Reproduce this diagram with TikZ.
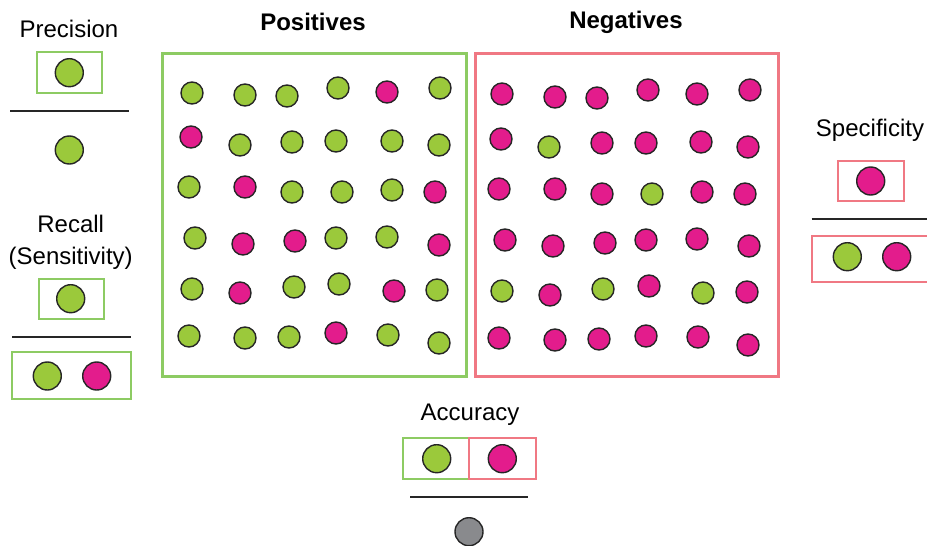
\documentclass[tikz,border=0pt]{standalone}
\usepackage{fontspec}
\setmainfont{Liberation Sans}
\usepackage{xcolor}
\usetikzlibrary{positioning}
\definecolor{pos}{HTML}{9BC93B}
\definecolor{neg}{HTML}{E31C8C}
\definecolor{posframe}{HTML}{8DCB63}
\definecolor{negframe}{HTML}{F07883}
\definecolor{allgray}{HTML}{898A8D}

\begin{document}
\begin{tikzpicture}[x=0.5pt, y=-0.5pt, font=\fontsize{12}{15.8}\selectfont,
  dot/.style={circle, draw=black!85, line width=0.7pt, minimum size=11pt, inner sep=0pt},
  bigdot/.style={dot, minimum size=14pt},
  frame/.style={line width=1.5pt},
  smallframe/.style={line width=0.85pt},
  fracline/.style={line width=1pt, black!85}]
  \useasboundingbox (0,0) rectangle (927,546);
  % class frames
  \draw[frame, posframe] (162.5,53) rectangle (466,376);
  \draw[frame, negframe] (475.5,53) rectangle (778,376);
  \node[font=\fontsize{12}{14}\selectfont\bfseries] (poslabel) at (313,22) {Positives};
  \node[font=\fontsize{12}{14}\selectfont\bfseries] (neglabel) at (626,22) {Negatives};
  % positives
  \foreach \x/\y/\c [count=\i] in {
    192/93/pos, 245/95/pos, 287/96/pos, 338/88/pos, 387/92/neg, 440/88/pos,
    191/137/neg, 240/145/pos, 292/142/pos, 336/141/pos, 392/141/pos, 439/145/pos,
    189/187/pos, 245/187/neg, 292/192/pos, 342/192/pos, 392/190/pos, 435/192/neg,
    195/238/pos, 243/244/neg, 295/241/neg, 336/238/pos, 387/237/pos, 439/245/neg,
    192/289/pos, 240/293/neg, 294/287/pos, 339/284/pos, 394/291/neg, 437/290/pos,
    189/336/pos, 245/338/pos, 289/337/pos, 336/333/neg, 388/335/pos, 439/343/pos}
    \node[dot, fill=\c] (p\i) at (\x,\y) {};
  % negatives
  \foreach \x/\y/\c [count=\i] in {
    502/94/neg, 555/97/neg, 597/98/neg, 648/90/neg, 697/94/neg, 750/90/neg,
    501/139/neg, 549/147/pos, 602/143/neg, 646/143/neg, 701/142/neg, 748/147/neg,
    499/189/neg, 555/189/neg, 602/194/neg, 652/194/pos, 702/192/neg, 745/194/neg,
    505/240/neg, 553/246/neg, 605/243/neg, 646/240/neg, 697/239/neg, 749/246/neg,
    502/291/pos, 550/295/neg, 603/289/pos, 649/286/neg, 703/293/pos, 747/292/neg,
    499/338/neg, 555/340/neg, 599/339/neg, 646/336/neg, 698/337/neg, 748/345/neg}
    \node[dot, fill=\c] (n\i) at (\x,\y) {};
  % precision
  \node (prec) at (69,29) {Precision};
  \draw[smallframe, posframe] (36.7,52.3) rectangle (102.3,92.7);
  \node[bigdot, fill=pos] (precTP) at (69.3,72.7) {};
  \draw[fracline] (10,110.7) -- (129,110.7);
  \node[bigdot, fill=pos] (precP) at (69.3,150) {};
  % recall
  \node[align=center] (rec) at (70.7,242) {Recall\\(Sensitivity)};
  \draw[smallframe, posframe] (38.7,278.7) rectangle (104.3,319);
  \node[bigdot, fill=pos] (recTP) at (70.7,298.7) {};
  \draw[fracline] (12,337.3) -- (130.7,337.3);
  \draw[smallframe, posframe] (12,352.3) rectangle (130.7,399.3);
  \node[bigdot, fill=pos] (recTP2) at (47.3,376) {};
  \node[bigdot, fill=neg] (recFN) at (96.7,376) {};
  % specificity
  \node (spec) at (870,130.7) {Specificity};
  \draw[smallframe, negframe] (838.3,160.7) rectangle (904,201);
  \node[bigdot, fill=neg] (specTN) at (870.7,181) {};
  \draw[fracline] (811.7,219) -- (930,219);
  \draw[smallframe, negframe] (935,235.7) -- (811.7,235.7) -- (811.7,282.3) -- (935,282.3);
  \node[bigdot, fill=pos] (specFP) at (847.3,256.7) {};
  \node[bigdot, fill=neg] (specTN2) at (896.7,256.7) {};
  % accuracy
  \node (acc) at (470,415) {Accuracy};
  \draw[smallframe, posframe] (403.3,438.3) rectangle (469.3,479.3);
  \draw[smallframe, negframe] (469.3,438.3) rectangle (535.7,479.3);
  \node[bigdot, fill=pos] (accTP) at (436.7,458.7) {};
  \node[bigdot, fill=neg] (accTN) at (502.3,458.7) {};
  \draw[fracline] (410,497.3) -- (528.3,497.3);
  \node[bigdot, fill=allgray] (accAll) at (469,531.7) {};
\end{tikzpicture}
\end{document}
